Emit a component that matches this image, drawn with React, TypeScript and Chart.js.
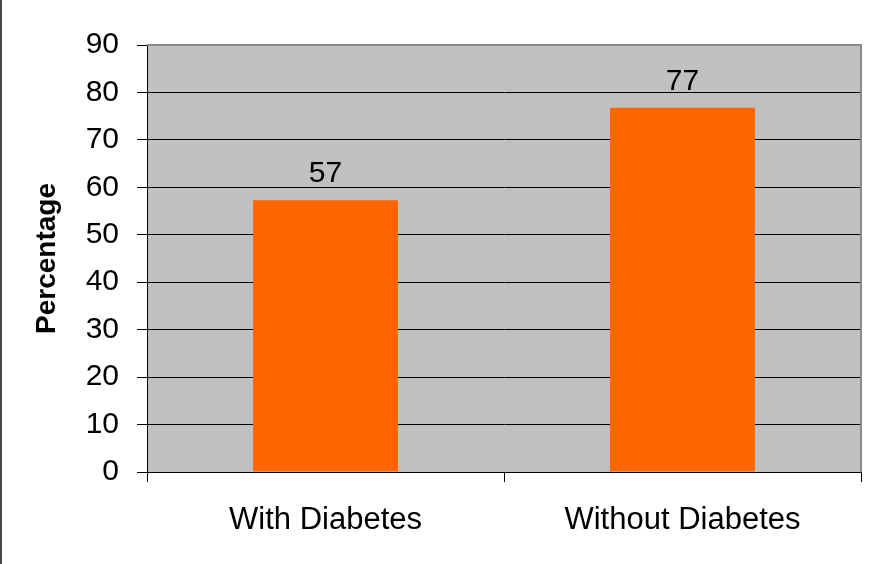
import React, { useEffect, useRef } from "react";
import { Chart, registerables } from "chart.js";

Chart.register(...registerables);

const categories: string[] = ["With Diabetes", "Without Diabetes"];
const percentages: number[] = [57.3, 76.8];
const valueLabels: string[] = ["57", "77"];
const yTickMin = 0;
const yTickMax = 90;
const yTickStep = 10;
const yTitle = "Percentage";

const FONT = "'Liberation Sans', Arial, sans-serif";

export default function App() {
  const ref = useRef<HTMLCanvasElement | null>(null);

  useEffect(() => {
    if (!ref.current) return;

    const decor = {
      id: "decor",
      beforeDraw(chart: any) {
        const { ctx, chartArea } = chart;
        ctx.save();
        ctx.fillStyle = "#ffffff";
        ctx.fillRect(0, 0, chart.width, chart.height);
        ctx.fillStyle = "#C0C0C0";
        ctx.fillRect(chartArea.left, chartArea.top, chartArea.right - chartArea.left, chartArea.bottom - chartArea.top);
        ctx.fillStyle = "#4a4a4a";
        ctx.fillRect(0, 0, 2, chart.height);
        ctx.restore();
      },
      afterDraw(chart: any) {
        const { ctx, chartArea } = chart;
        ctx.save();
        ctx.strokeStyle = "#8a8a8a";
        ctx.lineWidth = 2;
        ctx.beginPath();
        ctx.moveTo(chartArea.left, chartArea.top);
        ctx.lineTo(chartArea.right, chartArea.top);
        ctx.lineTo(chartArea.right, chartArea.bottom);
        ctx.stroke();
        ctx.restore();
      },
      afterDatasetsDraw(chart: any) {
        const { ctx } = chart;
        const meta = chart.getDatasetMeta(0);
        ctx.save();
        ctx.fillStyle = "#000000";
        ctx.font = `30px ${FONT}`;
        ctx.textAlign = "center";
        ctx.textBaseline = "alphabetic";
        meta.data.forEach((bar: any, i: number) => {
          ctx.fillText(valueLabels[i], bar.x, bar.y - 18);
        });
        ctx.restore();
      },
    };

    const chart = new Chart(ref.current, {
      type: "bar",
      data: {
        labels: categories,
        datasets: [
          {
            data: percentages,
            backgroundColor: "#FF6600",
            borderWidth: 0,
            barPercentage: 0.406,
            categoryPercentage: 1,
          },
        ],
      },
      options: {
        responsive: false,
        animation: false,
        layout: { padding: { left: 0, top: 45, right: 17, bottom: 0 } },
        plugins: {
          legend: { display: false },
          tooltip: { enabled: false },
        },
        scales: {
          x: {
            grid: {
              display: true,
              drawOnChartArea: false,
              drawTicks: true,
              tickLength: 10,
              color: "#000000",
              offset: true,
            },
            border: { display: true, color: "#000000", width: 1 },
            ticks: {
              color: "#000000",
              font: { family: FONT, size: 31 },
              padding: 20,
              maxRotation: 0,
            },
            afterFit: (s: any) => {
              s.height = 92;
            },
          },
          y: {
            min: yTickMin,
            max: yTickMax,
            ticks: {
              stepSize: yTickStep,
              color: "#000000",
              font: { family: FONT, size: 30 },
              padding: 18,
            },
            grid: {
              color: "#000000",
              tickLength: 10,
              drawTicks: true,
            },
            border: { display: true, color: "#000000", width: 1 },
            title: {
              display: true,
              text: yTitle,
              color: "#000000",
              font: { family: FONT, size: 28, weight: "bold" },
              padding: { top: 30, bottom: 0 },
            },
            afterFit: (s: any) => {
              s.width = 147;
            },
          },
        },
      },
      plugins: [decor],
    });

    return () => chart.destroy();
  }, []);

  return (
    <div style={{ position: "absolute", left: 0, top: 0, width: 878, height: 564 }}>
      <canvas ref={ref} width={878} height={564} style={{ display: "block", width: 878, height: 564 }} />
    </div>
  );
}
